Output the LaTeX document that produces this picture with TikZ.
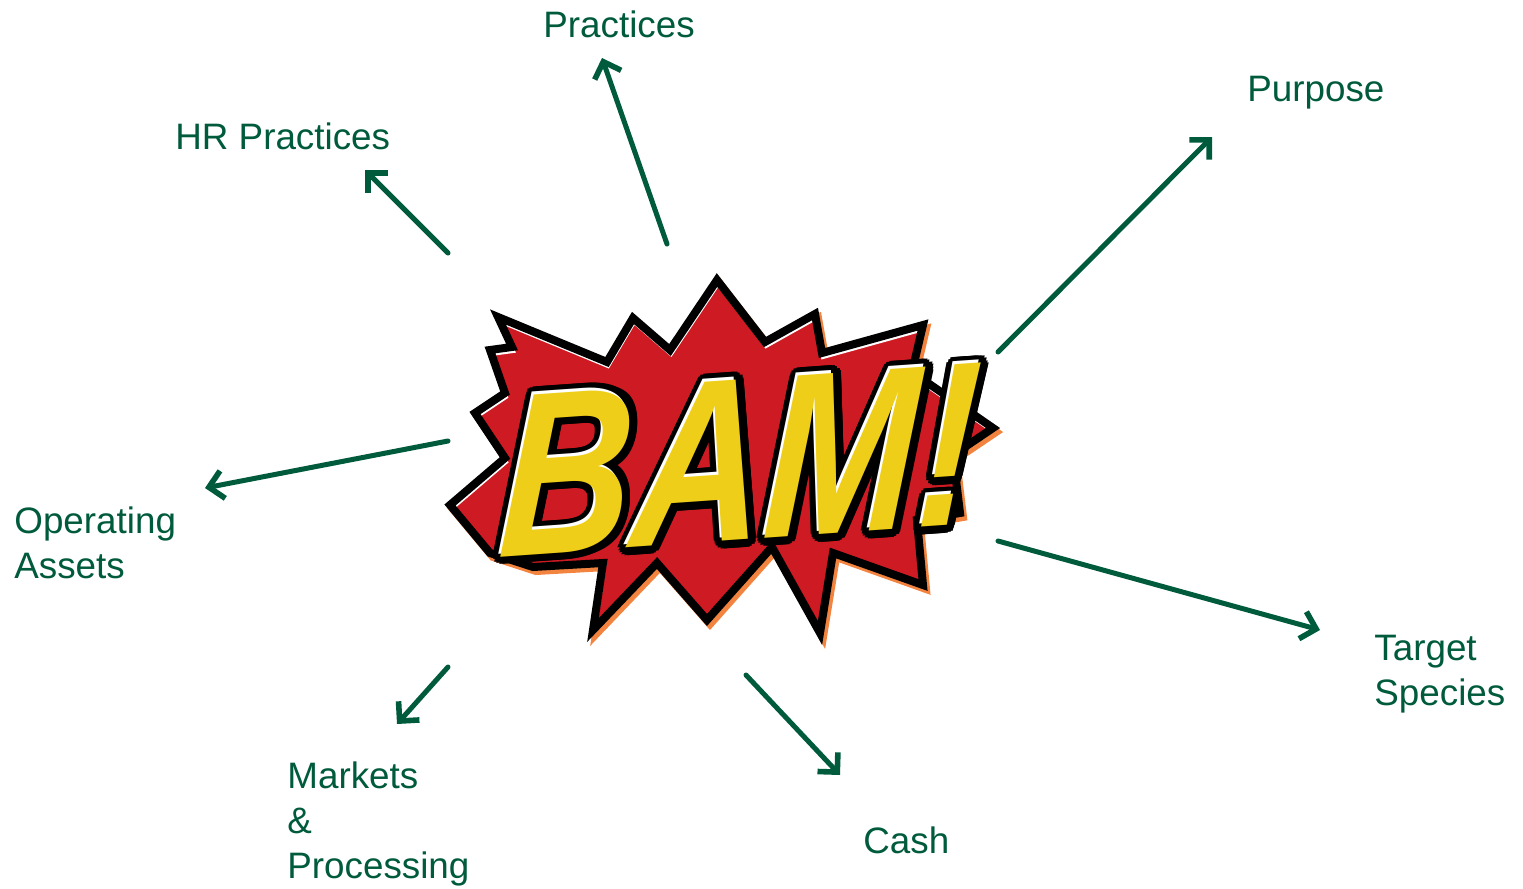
\documentclass[tikz,border=0pt]{standalone}
\usepackage{fontspec}
\setmainfont{Liberation Sans}
\usepackage{xcolor}
\usetikzlibrary{arrows.meta}

\definecolor{bamgreen}{RGB}{0,90,60}
\definecolor{bamred}{RGB}{206,26,34}
\definecolor{bamyellow}{RGB}{238,206,24}
\definecolor{bamorange}{RGB}{242,132,64}

\begin{document}
\begin{tikzpicture}[
  x=0.5pt, y=-0.5pt, % one unit = one pixel of the reference
  >={Straight Barb[length=7pt,width=14pt,line width=2.8pt]}, % open arrow head
  tag/.style={text=bamgreen, font=\fontsize{18.4}{22.5}\selectfont,
    align=left, anchor=base west, inner sep=0pt},
  pointer/.style={->, draw=bamgreen, line width=2.5pt, line cap=round, line join=round},
  bamfont/.style={font=\fontsize{116}{116}\selectfont\bfseries\itshape,
    inner sep=0pt, rotate=4, xscale=0.79, xslant=0.16, transform shape}
]
\useasboundingbox (0,0) rectangle (1523,889);

% the burst
\def\burst{(717,280) -- (765,342) -- (815,314) -- (822,353) -- (923,325)
  -- (912,372) -- (993,428) -- (953,455) -- (960,513) -- (917,520)
  -- (923,585) -- (833,553) -- (820,633) -- (772,547) -- (707,620)
  -- (657,563) -- (593,630) -- (603,563) -- (533,567) -- (490,553)
  -- (450,505) -- (505,458) -- (475,413) -- (505,393) -- (490,350)
  -- (512,347) -- (498,317) -- (607,362) -- (633,318) -- (670,350) -- cycle}
\filldraw[bamorange, line width=4pt, line join=miter, shift={(3,4)}] \burst;
\fill[bamred] \burst;
\begin{scope}
  \clip \burst;
  \draw[white, line width=2pt, shift={(1,4)}] \burst;
\end{scope}
\draw[black, line width=4pt, line join=miter] \burst;

% the lettering
\foreach \a [count=\i] in {0,20,...,340}
  \path (741,460) ++(\a:8) node[bamfont, text=black] (rim\i) {BAM!};
\node[bamfont, text=white] (glint) at (739,457) {BAM!};
\node[bamfont, text=bamyellow] (bam) at (741,460) {BAM!};

% the topics
\node[tag] (Pr) at (543,37) {Practices};
\node[tag] (HR) at (175,149) {HR Practices};
\node[tag] (Pu) at (1247,101) {Purpose};
\node[tag] (OA) at (14,578) {Operating\\Assets};
\node[tag] (TS) at (1374,705) {Target\\Species};
\node[tag] (MP) at (287,878) {Markets\\\&\\Processing};
\node[tag] (Ca) at (863,853) {Cash};

% ends of the arrows
\coordinate (tPr) at (667,244); \coordinate (hPr) at (602,58);
\coordinate (tHR) at (448,253); \coordinate (hHR) at (365,170);
\coordinate (tPu) at (998,352); \coordinate (hPu) at (1212,137);
\coordinate (tOA) at (448,441); \coordinate (hOA) at (205,488);
\coordinate (tTS) at (998,541); \coordinate (hTS) at (1320,630);
\coordinate (tMP) at (448,667); \coordinate (hMP) at (397,724);
\coordinate (tCa) at (746,675); \coordinate (hCa) at (840,775);

\path (tPr) edge[pointer] (hPr);
\path (tHR) edge[pointer] (hHR);
\path (tPu) edge[pointer] (hPu);
\path (tOA) edge[pointer] (hOA);
\path (tTS) edge[pointer] (hTS);
\path (tMP) edge[pointer] (hMP);
\path (tCa) edge[pointer] (hCa);
\end{tikzpicture}
\end{document}
